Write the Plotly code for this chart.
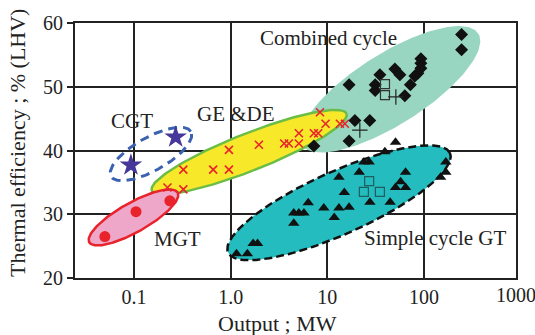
import numpy as np
import plotly.graph_objects as go

# ---------------- data ----------------
mgt_x = [0.05, 0.105, 0.235]
mgt_y = [26.5, 30.4, 32.1]

cgt_x = [0.093, 0.27]
cgt_y = [37.7, 42.1]

ge_x = [0.222, 0.324, 0.324, 0.66, 0.96, 0.96, 1.96, 3.58, 4.0, 5.08, 5.08,
        7.26, 8.05, 9.6, 13.5, 15.2, 8.4]
ge_y = [34.2, 33.9, 37.0, 37.0, 37.0, 40.1, 40.9, 41.1, 41.1, 41.1, 42.7,
        42.7, 42.7, 44.2, 44.2, 44.2, 46.0]

cc_x = [245, 245, 92.9, 92.9, 92.9, 86.5, 80.5, 50, 56.3, 35, 16.8, 31.3, 31.3,
        72.3, 63.4, 19.3, 27.5, 16.8, 7.26]
cc_y = [58.2, 55.8, 54.4, 53.7, 52.9, 52.1, 51.7, 52.8, 51.9, 51.9, 50.3, 50.3,
        49.4, 50.3, 48.6, 44.7, 44.7, 41.5, 40.7]
cc_sq_x = [39.5, 39.5]
cc_sq_y = [50.4, 48.7]
cc_plus_x = [51.2, 21.7]
cc_plus_y = [48.4, 43.2]

sc_x = [1.15, 1.49, 1.71, 1.90, 4.5, 4.5, 5.08, 5.73, 6.35, 9.2, 11.8, 13.2,
        15.0, 16.8, 13.2, 21.4, 27.6, 44.7, 50.8, 57.3, 64.5, 64.5, 23.9, 27.1,
        39.4, 50.8, 148.6, 168.3, 168.3]
sc_y = [23.8, 23.8, 25.4, 25.4, 28.6, 30.2, 30.2, 30.2, 31.8, 31.0, 29.5, 31.0,
        33.4, 31.1, 35.8, 36.6, 31.9, 31.9, 34.2, 35.1, 34.2, 36.6, 38.2, 38.2,
        39.8, 41.3, 35.8, 36.6, 38.2]
sc_sq_x = [27.1, 23.9, 35.0]
sc_sq_y = [35.2, 33.5, 33.5]

x_ticks = [0.1, 1, 10, 100]
x_ticktext = ["0.1", "1.0", "10", "100"]
y_ticks = [20, 30, 40, 50, 60]

region_names = ["CGT", "GE &DE", "Combined cycle", "MGT", "Simple cycle GT"]
label_x = [0.0947, 1.136, 10.2, 0.279, 130.0]
label_y = [44.65, 45.7, 57.6, 26.1, 26.2]

# ---------------- region (ellipse) specs ----------------
# centre (log10 output, efficiency), semi-axes in px, tilt in degrees
PX_PER_DECADE = 96.65
PX_PER_UNIT = 6.52


def ellipse(cx_log, cy, a, b, ang, n=200):
    t = np.linspace(0, 2 * np.pi, n)
    th = np.radians(ang)
    du = a * np.cos(t) * np.cos(th) - b * np.sin(t) * np.sin(th)
    dv = a * np.cos(t) * np.sin(th) + b * np.sin(t) * np.cos(th)
    return 10 ** (cx_log + du / PX_PER_DECADE), cy + dv / PX_PER_UNIT


FONT = "Liberation Serif, Times New Roman, serif"
INK = "#222222"

fig = go.Figure()

# combined cycle region
ex, ey = ellipse(1.649, 49.6, 105, 36, 33)
fig.add_trace(go.Scatter(x=ex, y=ey, mode="lines", fill="toself",
                         fillcolor="#98d6c1", line=dict(width=0),
                         hoverinfo="skip", showlegend=False))
# simple cycle region
ex, ey = ellipse(1.121, 31.8, 122, 32, 24.7)
fig.add_trace(go.Scatter(x=ex, y=ey, mode="lines", fill="toself",
                         fillcolor="#24bcbe",
                         line=dict(color="#111111", width=2.5, dash="8px,4px"),
                         hoverinfo="skip", showlegend=False))
# GE & DE region
ex, ey = ellipse(0.192, 39.75, 105, 19, 22)
fig.add_trace(go.Scatter(x=ex, y=ey, mode="lines", fill="toself",
                         fillcolor="#f8e82a", line=dict(color="#6cbd45", width=2.5),
                         hoverinfo="skip", showlegend=False))
# MGT region
ex, ey = ellipse(-1.005, 29.5, 51, 15, 30)
fig.add_trace(go.Scatter(x=ex, y=ey, mode="lines", fill="toself",
                         fillcolor="#efa7c9", line=dict(color="#e8232b", width=2.5),
                         hoverinfo="skip", showlegend=False))
# CGT region
ex, ey = ellipse(-0.824, 39.45, 46, 17, 30)
fig.add_trace(go.Scatter(x=ex, y=ey, mode="lines",
                         line=dict(color="#3a62b0", width=3, dash="9px,6px"),
                         hoverinfo="skip", showlegend=False))

# markers
fig.add_trace(go.Scatter(x=mgt_x, y=mgt_y, mode="markers", showlegend=False,
                         marker=dict(symbol="circle", size=11, color="#e8232b")))
fig.add_trace(go.Scatter(x=cgt_x, y=cgt_y, mode="markers", showlegend=False,
                         marker=dict(symbol="star", size=17, color="#45389a")))
fig.add_trace(go.Scatter(x=ge_x, y=ge_y, mode="markers", showlegend=False,
                         marker=dict(symbol="x-thin", size=8,
                                     line=dict(color="#e8232b", width=1.6))))
fig.add_trace(go.Scatter(x=cc_x, y=cc_y, mode="markers", showlegend=False,
                         marker=dict(symbol="diamond", size=10, color="#111111")))
fig.add_trace(go.Scatter(x=cc_sq_x, y=cc_sq_y, mode="markers", showlegend=False,
                         marker=dict(symbol="square-open", size=9, color="#333333",
                                     line=dict(width=1.2))))
fig.add_trace(go.Scatter(x=cc_plus_x, y=cc_plus_y, mode="markers", showlegend=False,
                         marker=dict(symbol="cross-thin", size=11,
                                     line=dict(color="#222222", width=1.2))))
fig.add_trace(go.Scatter(x=sc_x, y=sc_y, mode="markers", showlegend=False,
                         marker=dict(symbol="triangle-up", size=10, color="#111111")))
fig.add_trace(go.Scatter(x=sc_sq_x, y=sc_sq_y, mode="markers", showlegend=False,
                         marker=dict(symbol="square-open", size=9, color="#1e5e5e",
                                     line=dict(width=1.2))))

# region labels
for txt, lx, ly in zip(region_names, label_x, label_y):
    fig.add_annotation(x=np.log10(lx), y=ly, text=txt, showarrow=False,
                       font=dict(family=FONT, size=21, color=INK))

# 1000 tick label at right end of axis
fig.add_annotation(x=1, xref="paper", y=0, yref="paper", yshift=-17,
                   text="1000", showarrow=False, xanchor="center", yanchor="middle",
                   font=dict(family=FONT, size=20, color=INK))
# axis titles
fig.add_annotation(x=(277.5 - 75) / 441, xref="paper", y=0, yref="paper", yshift=-45,
                   text="Output ; MW", showarrow=False, yanchor="middle",
                   font=dict(family=FONT, size=22, color=INK))
fig.add_annotation(x=0, xref="paper", y=(278 - 140) / 260.5, yref="paper", xshift=-57,
                   text="Thermal efficiency ; % (LHV)", showarrow=False, textangle=-90,
                   xanchor="center", yanchor="middle",
                   font=dict(family=FONT, size=22, color=INK))

fig.update_xaxes(type="log", range=[-1.61, 2.952], tickvals=x_ticks, ticktext=x_ticktext,
                 showline=True, linecolor=INK, linewidth=2, mirror=True,
                 showgrid=True, gridcolor=INK, gridwidth=2, ticks="",
                 zeroline=False, tickfont=dict(family=FONT, size=20, color=INK))
fig.update_yaxes(range=[20, 60], tickvals=y_ticks,
                 showline=True, linecolor=INK, linewidth=2, mirror=True,
                 showgrid=True, gridcolor=INK, gridwidth=2, ticks="outside",
                 ticklen=6, tickwidth=2, tickcolor=INK, zeroline=False,
                 tickfont=dict(family=FONT, size=20, color=INK))
fig.update_layout(width=535, height=335, margin=dict(l=75, r=19, t=17.5, b=57),
                  paper_bgcolor="white", plot_bgcolor="white", showlegend=False)

fig.write_html("out.html", config={"displayModeBar": False},
               post_script="document.body.style.margin='0';document.body.style.overflow='hidden';")
